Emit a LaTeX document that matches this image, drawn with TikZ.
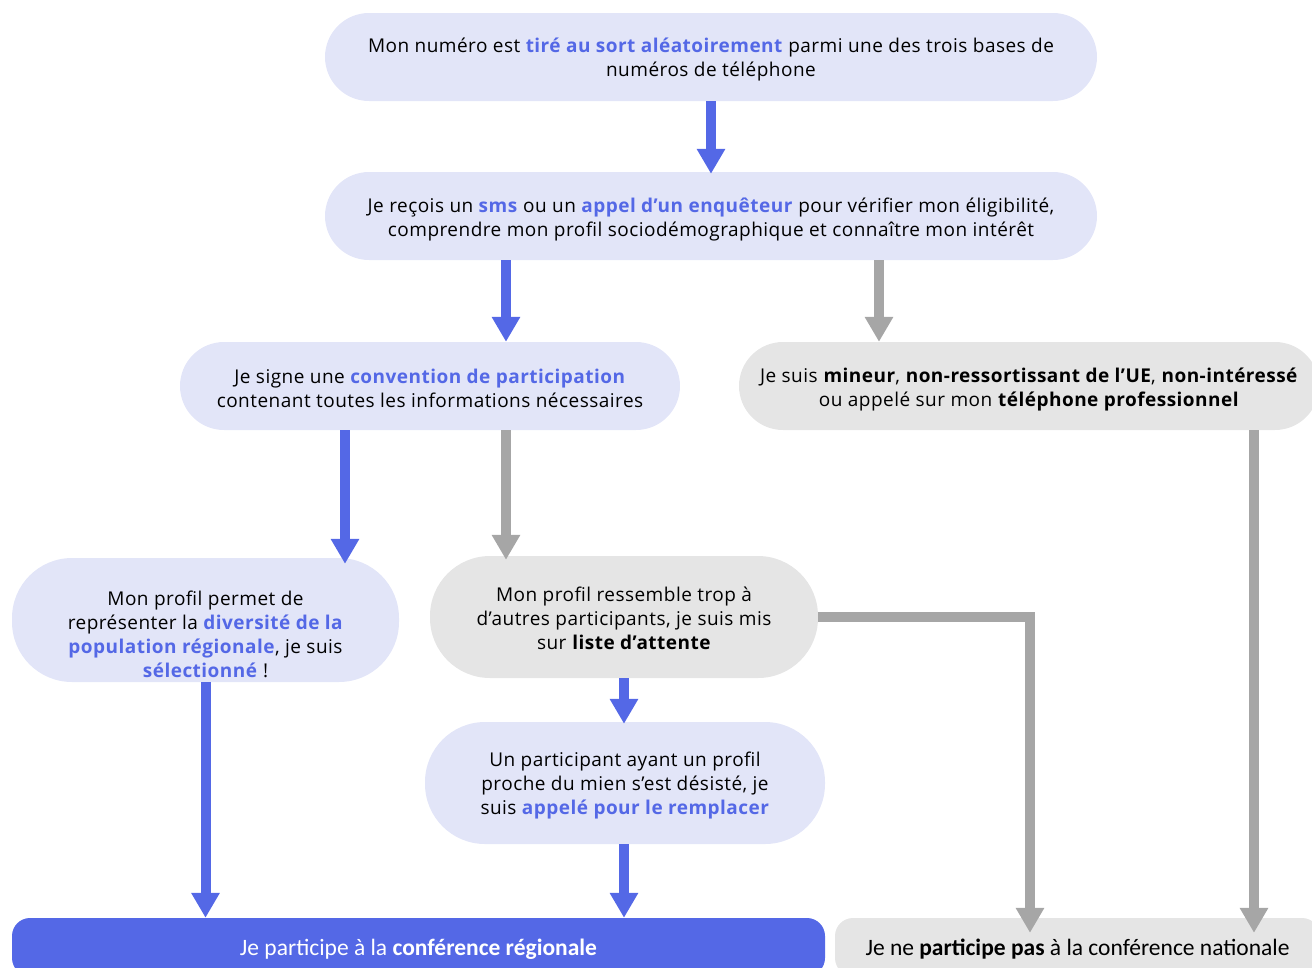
\documentclass[tikz,border=0pt]{standalone}
\usepackage{fontspec}
\setmainfont{Open Sans}[LetterSpace=2.5]
\newfontfamily\carl{Carlito}
\usetikzlibrary{arrows.meta,calc}
\definecolor{bleu}{HTML}{5468E6}
\definecolor{lav}{HTML}{E2E5F8}
\definecolor{gris}{HTML}{E5E5E5}
\definecolor{gflech}{HTML}{A6A6A6}
\newcommand{\hl}[1]{\textcolor{bleu}{\textbf{#1}}}
\tikzset{
  box/.style={inner sep=0pt},
  lavbox/.style={box, fill=lav},
  grisbox/.style={box, fill=gris},
  txt/.style={inner sep=0pt, align=center, font=\fontsize{19}{24}\selectfont},
  btxt/.style={inner sep=0pt, align=center, font=\carl\fontsize{23.5}{24}\selectfont},
  arr/.style={line width=10pt, -{Triangle[width=27pt,length=25pt]}},
  barrow/.style={arr, draw=bleu},
  garrow/.style={arr, draw=gflech},
}
\begin{document}
\begin{tikzpicture}[x=1pt,y=-1pt]
\useasboundingbox (0,0) rectangle (1312,967);
\clip (0,0) rectangle (1312,967);
% boxes
\node[lavbox, minimum width=772pt, minimum height=88pt, rounded corners=44pt] (n1) at (711,57) {};
\node[lavbox, minimum width=772pt, minimum height=88pt, rounded corners=44pt] (n2) at (711,216) {};
\node[lavbox, minimum width=500pt, minimum height=88pt, rounded corners=44pt] (n3) at (430,386) {};
\node[grisbox, minimum width=580pt, minimum height=88pt, rounded corners=44pt] (n4) at (1029,386) {};
\node[lavbox, minimum width=387pt, minimum height=124pt, rounded corners=60pt] (n5) at (205.5,620) {};
\node[grisbox, minimum width=388pt, minimum height=122pt, rounded corners=60pt] (n6) at (624,617) {};
\node[lavbox, minimum width=400pt, minimum height=122pt, rounded corners=60pt] (n7) at (625,783) {};
\node[box, fill=bleu, minimum width=813pt, minimum height=58pt, rounded corners=18pt] (n8) at (418.5,947) {};
\node[grisbox, minimum width=485pt, minimum height=58pt, rounded corners=18pt] (n9) at (1077.5,947) {};
% texts
\node[txt] (t1) at ([yshift=-3pt]n1.center)
  {Mon numéro est \hl{tiré au sort aléatoirement} parmi une des trois bases de\\numéros de téléphone};
\node[txt] (t2) at ([yshift=-3pt]n2.center)
  {Je reçois un \hl{sms} ou un \hl{appel d’un enquêteur} pour vérifier mon éligibilité,\\comprendre mon profil sociodémographique et connaître mon intérêt};
\node[txt] (t3) at ([yshift=-2pt]n3.center)
  {Je signe une \hl{convention de participation}\\contenant toutes les informations nécessaires};
\node[txt] (t4) at ([yshift=-3pt]n4.center)
  {Je suis \textbf{mineur}, \textbf{non-ressortissant de l’UE}, \textbf{non-intéressé}\\ou appelé sur mon \textbf{téléphone professionnel}};
\node[txt] (t5) at ([yshift=-14pt]n5.center)
  {Mon profil permet de\\représenter la \hl{diversité de la}\\\hl{population régionale}, je suis\\\hl{sélectionné} !};
\node[txt] (t6) at ([yshift=-1pt]n6.center)
  {Mon profil ressemble trop à\\d’autres participants, je suis mis\\sur \textbf{liste d’attente}};
\node[txt] (t7) at ([yshift=-3pt]n7.center)
  {Un participant ayant un profil\\proche du mien s’est désisté, je\\suis \hl{appelé pour le remplacer}};
\node[btxt, text=white] (t8) at ([yshift=-2pt]n8.center)
  {Je participe à la \textbf{conférence régionale}};
\node[btxt] (t9) at ([yshift=-2pt]n9.center)
  {Je ne \textbf{participe pas} à la conférence nationale};
% arrows
\draw[barrow] (n1.south) -- ([yshift=-2pt]n2.north);
\draw[barrow] ([xshift=-205pt]n2.south) -- ([xshift=-205pt]n2.south |- n3.north);
\draw[garrow] ([xshift=168pt]n2.south) -- ([xshift=168pt]n2.south |- n4.north);
\draw[barrow] ([xshift=-85pt]n3.south) -- ([xshift=-85pt,yshift=-6pt]n3.south |- n5.north);
\draw[garrow] ([xshift=76pt]n3.south) -- ([xshift=76pt,yshift=-4pt]n3.south |- n6.north);
\draw[barrow] (n5.south) -- (n5.south |- n8.north);
\draw[barrow] (n6.south) -- ([yshift=-2pt]n6.south |- n7.north);
\draw[barrow] (n7.south -| n6.south) -- (n6.south |- n8.north);
\draw[garrow] (n6.east) -- (1030,617) -- ([yshift=-15pt]1030,0 |- n9.north);
\draw[garrow] ([xshift=225pt]n4.south) -- ([xshift=225pt,yshift=-15pt]n4.south |- n9.north);
\end{tikzpicture}
\end{document}
